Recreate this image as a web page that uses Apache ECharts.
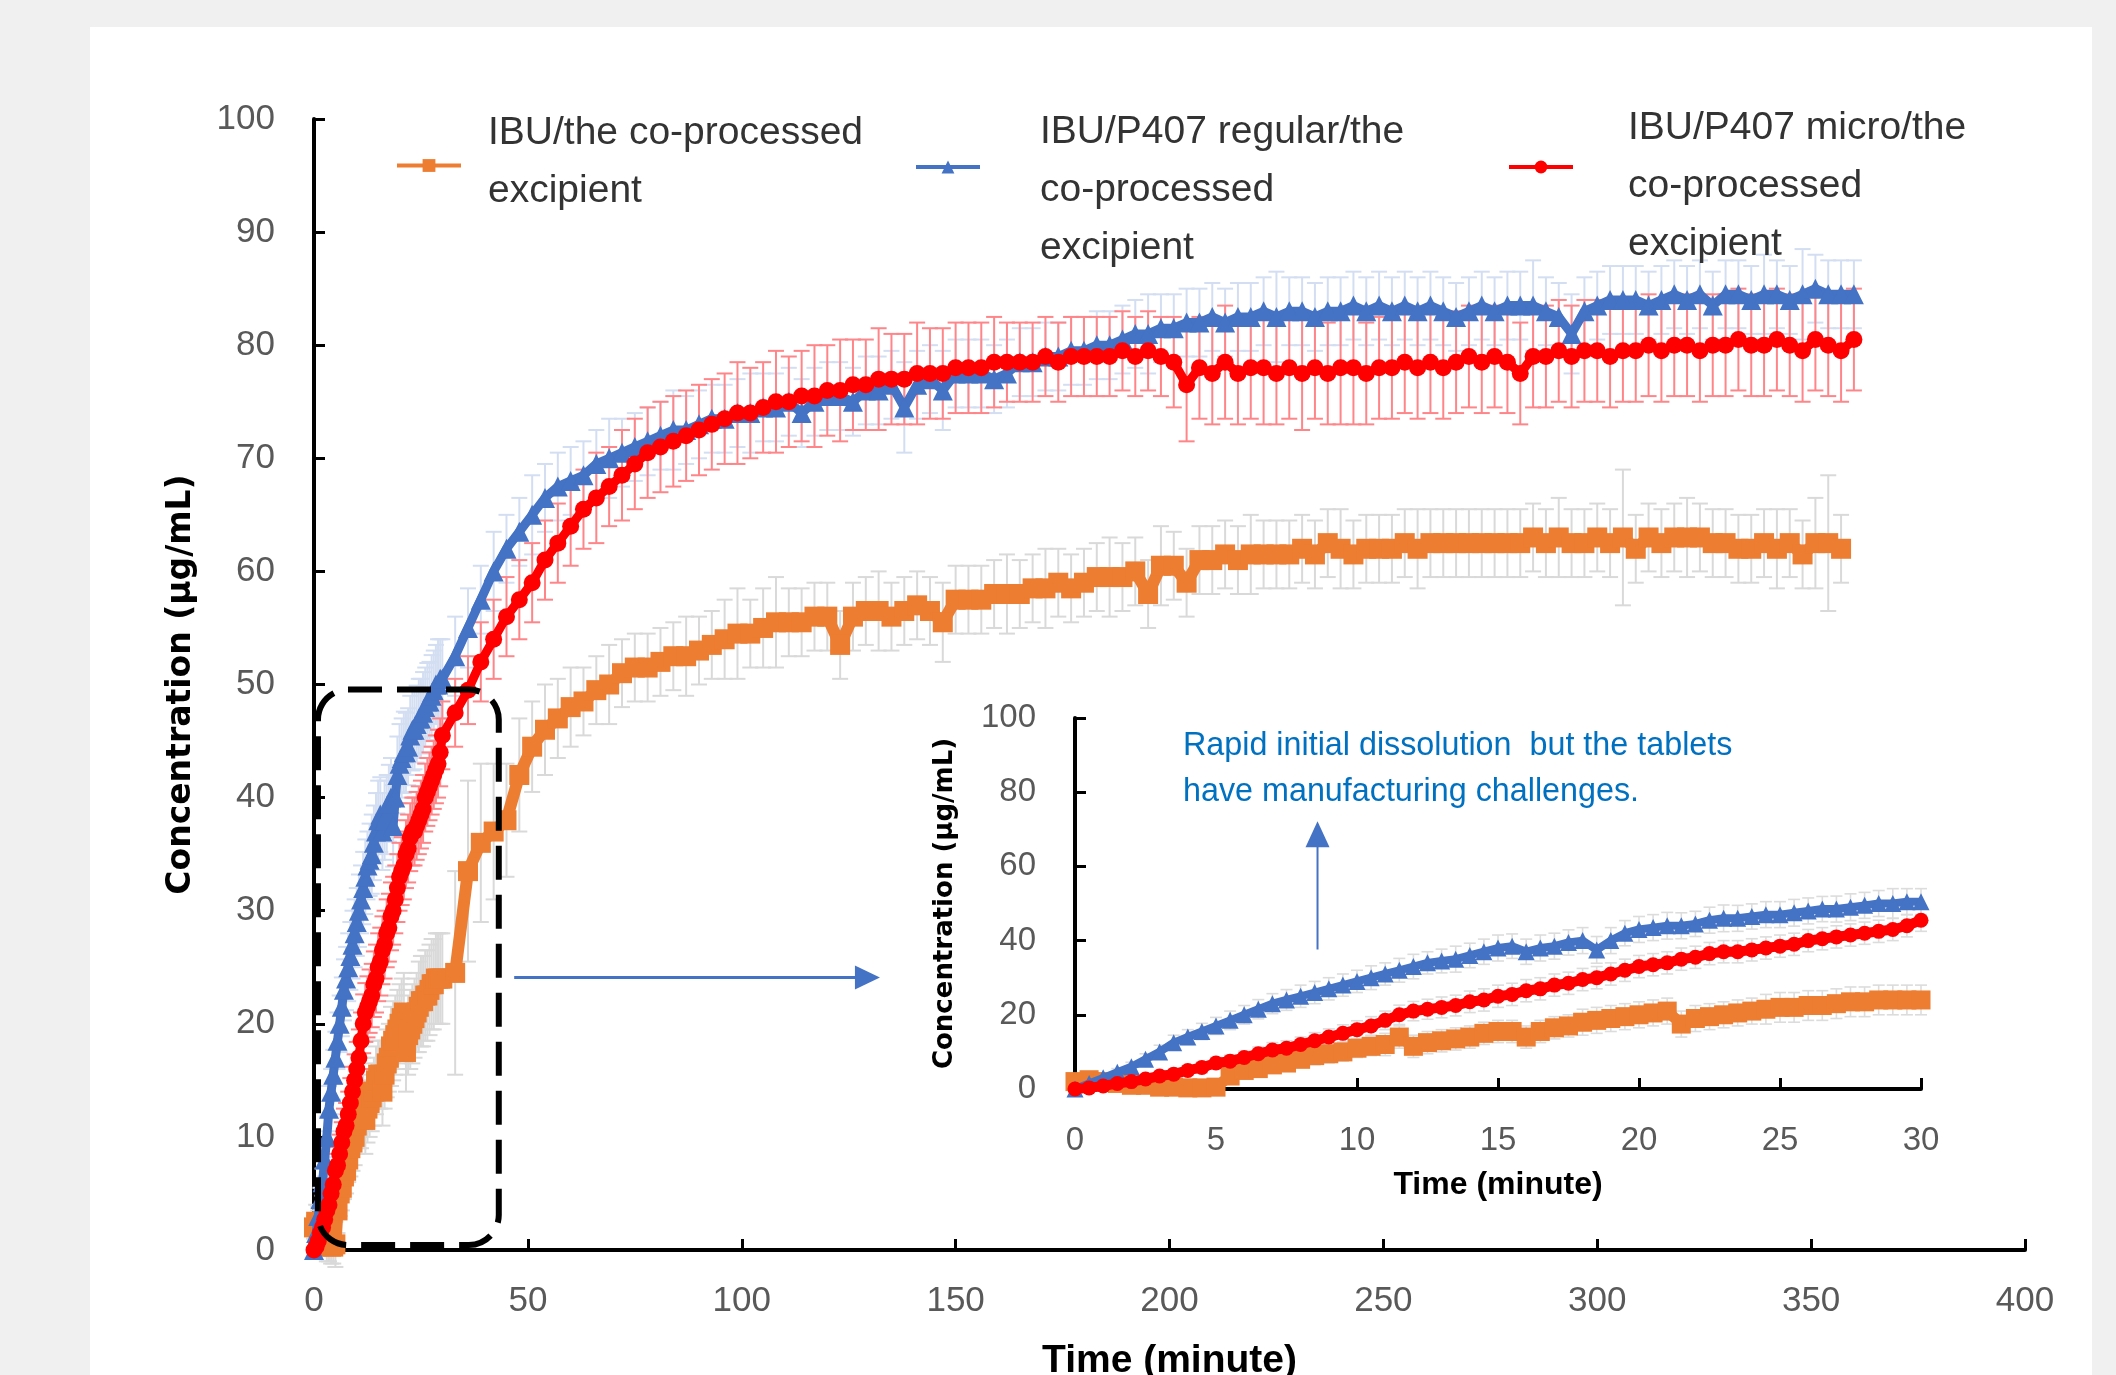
<!DOCTYPE html>
<html>
<head>
<meta charset="utf-8">
<script src="https://cdn.jsdelivr.net/npm/echarts@6/dist/echarts.min.js"></script>
<style>
  html, body { margin: 0; padding: 0; background: #f0f0f0; }
  #card { position: absolute; left: 90px; top: 27px; width: 2002px; height: 1348px; background: #ffffff; }
  #chart { position: absolute; left: 0; top: 0; width: 2116px; height: 1375px; }
</style>
</head>
<body>
<div id="card"></div>
<div id="chart"></div>
<script>
// ---------------- DATA ----------------
const seriesNames = [
  'IBU/the co-processed excipient',
  'IBU/P407 regular/the co-processed excipient',
  'IBU/P407 micro/the co-processed excipient'
];
const legendLines = [
  ['IBU/the co-processed', 'excipient'],
  ['IBU/P407 regular/the', 'co-processed', 'excipient'],
  ['IBU/P407 micro/the', 'co-processed', 'excipient']
];

// time in minutes
const time = [
  0,0.5,1,1.5,2,2.5,3,3.5,4,4.5,5,5.5,6,6.5,7,7.5,8,8.5,9,9.5,
  10,10.5,11,11.5,12,12.5,13,13.5,14,14.5,15,15.5,16,16.5,17,17.5,18,18.5,19,19.5,
  20,20.5,21,21.5,22,22.5,23,23.5,24,24.5,25,25.5,26,26.5,27,27.5,28,28.5,29,29.5,30,
  33,36,39,42,45,48,51,54,57,60,63,66,69,72,75,78,81,84,87,90,
  93,96,99,102,105,108,111,114,117,120,123,126,129,132,135,138,141,144,147,150,
  153,156,159,162,165,168,171,174,177,180,183,186,189,192,195,198,201,204,207,210,
  213,216,219,222,225,228,231,234,237,240,243,246,249,252,255,258,261,264,267,270,
  273,276,279,282,285,288,291,294,297,300,303,306,309,312,315,318,321,324,327,330,
  333,336,339,342,345,348,351,354,357,360
];

// IBU/the co-processed excipient (orange squares), µg/mL
const orangeConc = [
  2,2.5,2,1.5,1,1,0.5,0.5,0.3,0.3,0.5,3.5,5,5.5,6.5,7,8,9,9.5,10,
  11,11.5,12,14,11.5,12.5,13,13.5,14,15,15.5,15.5,14,15.5,16.5,17,18,18.5,19,19.5,
  20,20.5,21,17.5,19,19.5,20,20.5,21,21.5,22,22,22.5,22.5,23,23.5,23.5,24,24,24,24,
  24.5,33.5,36,37,38,42,44.5,46,47,48,
  48.5,49.5,50,51,51.5,51.5,52,52.5,52.5,53,
  53.5,54,54.5,54.5,55,55.5,55.5,55.5,56,56,
  53.5,56,56.5,56.5,56,56.5,57,56.5,55.5,57.5,
  57.5,57.5,58,58,58,58.5,58.5,59,58.5,59,
  59.5,59.5,59.5,60,58,60.5,60.5,59,61,61,
  61.5,61,61.5,61.5,61.5,61.5,62,61.5,62.5,62,
  61.5,62,62,62,62.5,62,62.5,62.5,62.5,62.5,
  62.5,62.5,62.5,62.5,63,62.5,63,62.5,62.5,63,
  62.5,63,62,63,62.5,63,63,63,62.5,62.5,
  62,62,62.5,62,62.5,61.5,62.5,62.5,62,null
];
const orangeSD = [
  1,1.5,1.5,1.5,1.5,1.5,1.5,1.5,1.5,1.5,2,2,2,2,2,2,2,2.5,2.5,2.5,
  2.5,2.5,3,3,3,3,3,3,3,3,3,3,3,3,3,3,3.5,3.5,3.5,3.5,
  3.5,3.5,3.5,3.5,3.5,3.5,3.5,3.5,3.5,4,4,4,4,4,4,4,4,4,4,4,4,
  9,8,7,6,5,5,4,4,3.5,3.5,
  3,3,3.5,3,3,3,3,3,3.5,3,
  3,3.5,4,3,3.5,4,3,3,3,3,
  3,3,3,3.5,3,3,3,3,3.5,3,
  3,3,3,3.5,3,3,3.5,3,3,3,
  3,3.5,3,3,3,3.5,3,3,3,3,
  3,3,3.5,3,3,3,3,3,3,3.5,
  3,3,3,3,3,3.5,3,3,3,3,
  3,3,3,3,3,3,3.5,3,3,3,
  3,6,3,3,3,3,3.5,3,3,3,
  3,3,3,3.5,3,3,4,6,3,0
];

// IBU/P407 regular/the co-processed excipient (blue triangles)
const blueConc = [
  0,1.5,3,4.5,6,8,10,12.5,14,15.5,17,18.5,20,21.5,23,24,25,26,27,28,
  29,30,31,32,33,34,34.5,35,36,37,38,38.5,37,38,38.5,39.5,40,37.5,40,42,
  43,43.5,44,44,44.5,45.5,46,46,46.5,47,47,47.5,48,48.5,48.5,49,49.5,50,50,50.5,50.5,
  52.5,55,57.5,60,62,63.5,65,66.5,67.5,68,
  68.5,69.5,70,70.5,71,71.5,72,72.5,72.5,73,
  73.5,73.5,74,74,74.5,74.5,75,74,75,75.5,
  75.5,75,76,76,76.5,74.5,76.5,77,76,77.5,
  77.5,77.5,77,77.5,78.5,78.5,79,79,79.5,79.5,
  80,80,80.5,81,81,81.5,81.5,82,82,82.5,
  82,82.5,82.5,83,82.5,83,83,82.5,83,83,
  83.5,83,83.5,83,83.5,83,83.5,83,82.5,83,
  83.5,83,83.5,83.5,83.5,83,82.5,81,83,83.5,
  84,84,84,83.5,84,84.5,84,84.5,83.5,84.5,
  84.5,84,84.5,84.5,84,84.5,85,84.5,84.5,84.5
];
const blueSD = [
  0,0.5,0.8,1,1.2,1.5,1.8,2,2,2.2,2.3,2.5,2.5,2.6,2.7,2.8,3,3,3,3,
  3,3.2,3,3.2,3.3,3,3.2,3.5,3.3,3.4,3.5,3.3,3.4,3.5,3.5,3.4,3.5,3.6,3.5,3.4,
  3.5,3.5,3.6,3.5,3.4,3.5,3.6,3.5,3.4,3.5,3.5,3.6,3.5,3.4,3.5,3.6,3.5,3.5,4,3.5,3.5,
  3.5,3.5,3,3.5,3,3,3.5,3,3,3,
  3,3,3.5,3,3,3,3,3.5,3,3,
  3,3,3,3.5,3,3,3,3,3,3,
  3,3,3,3,3,4,3,3,3.5,3,
  3,3,3,3,3,3,3,3,3,3,
  3,3,3,3,3.5,3,3,3,3,3,
  3,3,3,3,4,3,3,3,3,3,
  3,3,3,3,3,3,3,3,3,3,
  3,3,3,3,4,3,3,3.5,3,3,
  3,3,3,3,3,3,3,3,3,3,
  3,3,3.5,3,3,4,3,3,3,3
];

// IBU/P407 micro/the co-processed excipient (red circles)
const redConc = [
  0,0.3,0.8,1.5,2,2.7,3.5,4,5,5.8,7,7.5,8.5,9.5,10.5,11,12,13,14,15,
  16,17,18.5,20,21,21.5,22,22.5,23.5,24,25,25.5,26.5,27,28,28.5,29.5,30,31,32,
  33,33.5,34,35,35.5,36.5,37,37,37.5,38,38.5,39,40,40.5,41,41.5,42,42.5,43,44,45.5,
  47.5,49.5,52,54,56,57.5,59,61,62.5,64,
  65.5,66.5,67.5,68.5,69.5,70.5,71,71.5,72,72.5,
  73,73.5,74,74,74.5,75,75,75.5,75.5,76,
  76,76.5,76.5,77,77,77,77.5,77.5,77.5,78,
  78,78,78.5,78.5,78.5,78.5,79,78.5,79,79,
  79,79,79.5,79,79.5,79,78.5,76.5,78,77.5,
  78.5,77.5,78,78,77.5,78,77.5,78,77.5,78,
  78,77.5,78,78,78.5,78,78.5,78,78.5,79,
  78.5,79,78.5,77.5,79,79,79.5,79,79.5,79.5,
  79,79.5,79.5,80,79.5,80,80,79.5,80,80,
  80.5,80,80,80.5,80,79.5,80.5,80,79.5,80.5
];
const redSD = [
  0,0.3,0.5,0.7,0.8,1,1,1.2,1.3,1.5,1.5,1.6,1.7,1.8,2,2,2,2.2,2.2,2.3,
  2.4,2.5,2.5,2.6,2.6,2.7,2.8,2.8,2.9,3,3,3,3,3,3,3,3,3,3,3,
  3,3,3,3,3,3,3,3,3,3,3,3,3,3,3,3,3,3,3,3,3,
  3,3,3.5,3.5,3.5,3.5,3.5,3.5,3.5,3.5,
  3.5,4,3.5,4,4,4,4,4,4,4,
  4,4,4.5,4,4,4.5,4,4,4.5,4,
  4.5,4,4,4.5,4,4,4.5,4,4,4,
  4,4,4,3.5,3.5,3.5,3.5,3.5,3.5,3.5,
  3.5,3.5,3.5,3.5,3.5,3.5,4,5,4.5,4.5,
  5,4.5,4.5,5,4.5,4.5,5,4.5,4.5,5,
  5,4.5,4.5,4.5,4.5,4.5,4.5,4.5,4.5,4.5,
  4.5,4.5,4.5,4.5,4.5,4.5,4.5,4.5,4.5,4.5,
  4.5,4.5,4.5,4.5,4.5,4.5,4.5,4.5,4.5,4.5,
  4.5,4.5,4.5,4.5,4.5,4.5,4.5,4.5,4.5,4.5
];

const mainXTicks = [0, 400, 50];   // min, max, interval
const mainYTicks = [0, 100, 10];
const insetXTicks = [0, 30, 5];
const insetYTicks = [0, 100, 20];

// ---------------- CHART ----------------
const ORANGE = '#ED7D31', BLUE = '#4472C4', RED = '#FF0000';
const TICK_FONT = '"Liberation Sans", Arial, sans-serif';

function points(vals, maxT) {
  const out = [];
  for (let i = 0; i < time.length; i++) {
    if (vals[i] == null) continue;
    if (maxT != null && time[i] > maxT) continue;
    out.push([time[i], vals[i]]);
  }
  return out;
}
function errPoints(vals, sd, maxT) {
  const out = [];
  for (let i = 0; i < time.length; i++) {
    if (vals[i] == null) continue;
    if (maxT != null && time[i] > maxT) continue;
    out.push([time[i], vals[i] - sd[i], vals[i] + sd[i]]);
  }
  return out;
}
function errRenderer(color, cap, lw) {
  return function (params, api) {
    const x = api.value(0), lo = api.value(1), hi = api.value(2);
    const a = api.coord([x, hi]), b = api.coord([x, lo]);
    const style = { stroke: color, lineWidth: lw };
    return {
      type: 'group',
      children: [
        { type: 'line', shape: { x1: a[0], y1: a[1], x2: b[0], y2: b[1] }, style: style },
        { type: 'line', shape: { x1: a[0] - cap, y1: a[1], x2: a[0] + cap, y2: a[1] }, style: style },
        { type: 'line', shape: { x1: b[0] - cap, y1: b[1], x2: b[0] + cap, y2: b[1] }, style: style }
      ]
    };
  };
}

function axisCommon(range, fontSize, margin) {
  return {
    type: 'value', min: range[0], max: range[1], interval: range[2],
    axisLine: { show: true, onZero: false, lineStyle: { color: '#000', width: 4 } },
    axisTick: { show: true, inside: true, length: 11, lineStyle: { color: '#000', width: 3 } },
    axisLabel: { color: '#595959', fontSize: fontSize, fontFamily: TICK_FONT, margin: margin },
    splitLine: { show: false }
  };
}

// legend text as rich text; a spacer line shifts the text block relative to the marker
function legendText(idx, spacerTop) {
  const body = legendLines[idx].map(function (s) { return '{t|' + s + '}'; }).join('\n');
  return spacerTop ? '{s| }\n' + body : body + '\n{s| }';
}
function legendBlock(idx, left, top, padLeft, spacerH, spacerTop) {
  return {
    orient: 'horizontal', padding: 0, itemWidth: 64, itemHeight: 16, selectedMode: false,
    left: left, top: top,
    lineStyle: { width: 4 },
    data: [{ name: seriesNames[idx] }],
    formatter: function () { return legendText(idx, spacerTop); },
    textStyle: {
      fontFamily: TICK_FONT, fontSize: 39, color: '#333', padding: [0, 0, 0, padLeft],
      rich: {
        t: { fontFamily: TICK_FONT, fontSize: 39, color: '#333', lineHeight: 58 },
        s: { fontSize: 4, lineHeight: spacerH }
      }
    }
  };
}

const chart = echarts.init(document.getElementById('chart'), null, { renderer: 'canvas' });

const option = {
  animation: false,
  backgroundColor: 'transparent',
  grid: [
    { left: 314, top: 119, width: 1711, height: 1131, outerBoundsMode: 'none', containLabel: false },
    { left: 1075, top: 718, width: 846, height: 371, outerBoundsMode: 'none', containLabel: false }
  ],
  xAxis: [
    Object.assign(axisCommon(mainXTicks, 35, 34), {
      gridIndex: 0, name: 'Time (minute)', nameLocation: 'middle', nameGap: 92,
      nameTextStyle: { fontFamily: TICK_FONT, fontWeight: 'bold', fontSize: 39, color: '#000' }
    }),
    Object.assign(axisCommon(insetXTicks, 33, 35), {
      gridIndex: 1, name: 'Time (minute)', nameLocation: 'middle', nameGap: 80,
      nameTextStyle: { fontFamily: TICK_FONT, fontWeight: 'bold', fontSize: 32, color: '#000' }
    })
  ],
  yAxis: [
    Object.assign(axisCommon(mainYTicks, 35, 39), {
      gridIndex: 0, name: 'Concentration (\u00b5g/mL)', nameLocation: 'middle', nameRotate: 90, nameGap: 116,
      nameTextStyle: { fontFamily: '"DejaVu Sans", sans-serif', fontWeight: 'bold', fontSize: 33, color: '#000' }
    }),
    Object.assign(axisCommon(insetYTicks, 33, 39), {
      gridIndex: 1, name: 'Concentration (\u00b5g/mL)', nameLocation: 'middle', nameRotate: 90, nameGap: 117,
      nameTextStyle: { fontFamily: '"DejaVu Sans", sans-serif', fontWeight: 'bold', fontSize: 26, color: '#000' }
    })
  ],
  legend: [
    legendBlock(0, 395, 114, 22, 6, false),
    legendBlock(1, 914, 78, 55, 46, true),
    legendBlock(2, 1507, 78, 50, 39, true)
  ],
  series: [
    // main chart error bars
    { name: 'err-o', type: 'custom', xAxisIndex: 0, yAxisIndex: 0, z: 1, silent: true,
      renderItem: errRenderer('#d9d9d9', 8, 2), data: errPoints(orangeConc, orangeSD), encode: { x: 0, y: [1, 2] } },
    { name: 'err-b', type: 'custom', xAxisIndex: 0, yAxisIndex: 0, z: 1, silent: true,
      renderItem: errRenderer('#d3def2', 8, 2), data: errPoints(blueConc, blueSD), encode: { x: 0, y: [1, 2] } },
    { name: 'err-r', type: 'custom', xAxisIndex: 0, yAxisIndex: 0, z: 1, silent: true,
      renderItem: errRenderer('#ff8589', 8, 2), data: errPoints(redConc, redSD), encode: { x: 0, y: [1, 2] } },
    // main chart lines
    { name: seriesNames[0], type: 'line', xAxisIndex: 0, yAxisIndex: 0, z: 3, data: points(orangeConc),
      symbol: 'rect', symbolSize: 20, itemStyle: { color: ORANGE }, lineStyle: { color: ORANGE, width: 12 } },
    { name: seriesNames[1], type: 'line', xAxisIndex: 0, yAxisIndex: 0, z: 4, data: points(blueConc),
      symbol: 'triangle', symbolSize: 20, itemStyle: { color: BLUE }, lineStyle: { color: BLUE, width: 9 } },
    { name: seriesNames[2], type: 'line', xAxisIndex: 0, yAxisIndex: 0, z: 5, data: points(redConc),
      symbol: 'circle', symbolSize: 17, itemStyle: { color: RED }, lineStyle: { color: RED, width: 9 } },
    // inset error bars
    { name: 'ierr-o', type: 'custom', xAxisIndex: 1, yAxisIndex: 1, z: 1, silent: true,
      renderItem: errRenderer('#dcdcdc', 6, 1.6), data: errPoints(orangeConc, orangeSD, 30), encode: { x: 0, y: [1, 2] } },
    { name: 'ierr-b', type: 'custom', xAxisIndex: 1, yAxisIndex: 1, z: 1, silent: true,
      renderItem: errRenderer('#dcdcdc', 6, 1.6), data: errPoints(blueConc, blueSD, 30), encode: { x: 0, y: [1, 2] } },
    { name: 'ierr-r', type: 'custom', xAxisIndex: 1, yAxisIndex: 1, z: 1, silent: true,
      renderItem: errRenderer('#dcdcdc', 6, 1.6), data: errPoints(redConc, redSD, 30), encode: { x: 0, y: [1, 2] } },
    // inset lines
    { name: seriesNames[0], type: 'line', xAxisIndex: 1, yAxisIndex: 1, z: 3, data: points(orangeConc, 30),
      symbol: 'rect', symbolSize: 19, itemStyle: { color: ORANGE }, lineStyle: { color: ORANGE, width: 11 } },
    { name: seriesNames[1], type: 'line', xAxisIndex: 1, yAxisIndex: 1, z: 4, data: points(blueConc, 30),
      symbol: 'triangle', symbolSize: 17, itemStyle: { color: BLUE }, lineStyle: { color: BLUE, width: 8 } },
    { name: seriesNames[2], type: 'line', xAxisIndex: 1, yAxisIndex: 1, z: 5, data: points(redConc, 30),
      symbol: 'circle', symbolSize: 15, itemStyle: { color: RED }, lineStyle: { color: RED, width: 10 } }
  ]
};
chart.setOption(option);

// ---------------- ANNOTATIONS (anchored to the axes) ----------------
function px(g, x, y) { return chart.convertToPixel({ gridIndex: g }, [x, y]); }
const boxTL = px(0, 0.93, 49.55), boxBR = px(0, 43.2, 0.44);
const hA = px(0, 46.8, 24.1), hB = px(0, 132.3, 24.1);
const vA = px(1, 8.6, 37.6), vB = px(1, 8.6, 72.2);
const note = px(1, 3.83, 86.3);
const ARROW = '#4472C4';

chart.setOption({
  graphic: [
    { type: 'rect', z: 50,
      shape: { x: boxTL[0], y: boxTL[1], width: boxBR[0] - boxTL[0], height: boxBR[1] - boxTL[1], r: 30 },
      style: { fill: 'none', stroke: '#000', lineWidth: 6, lineDash: [34, 15] } },
    { type: 'line', z: 50, shape: { x1: hA[0], y1: hA[1], x2: hB[0] - 22, y2: hB[1] },
      style: { stroke: ARROW, lineWidth: 3 } },
    { type: 'polygon', z: 50,
      shape: { points: [[hB[0], hB[1]], [hB[0] - 25, hB[1] - 12], [hB[0] - 25, hB[1] + 12]] },
      style: { fill: ARROW } },
    { type: 'line', z: 50, shape: { x1: vA[0], y1: vA[1], x2: vB[0], y2: vB[1] + 22 },
      style: { stroke: ARROW, lineWidth: 2 } },
    { type: 'polygon', z: 50,
      shape: { points: [[vB[0], vB[1]], [vB[0] - 12, vB[1] + 26], [vB[0] + 12, vB[1] + 26]] },
      style: { fill: ARROW } },
    { type: 'text', z: 50, x: note[0], y: note[1],
      style: { text: 'Rapid initial dissolution  but the tablets\nhave manufacturing challenges.',
        fill: '#0070C0', fontFamily: TICK_FONT, fontSize: 32.3, lineHeight: 46,
        align: 'left', verticalAlign: 'middle' } }
  ]
});
</script>
</body>
</html>
